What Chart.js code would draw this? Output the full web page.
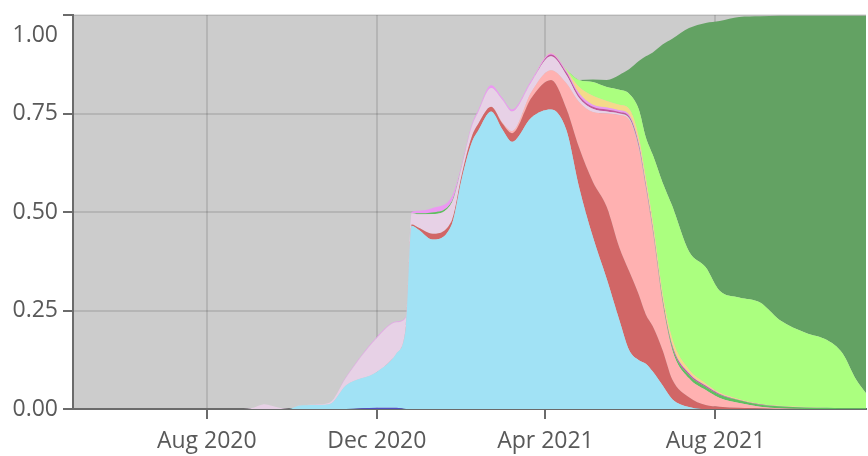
<!DOCTYPE html>
<html>
<head>
<meta charset="utf-8">
<script src="https://cdn.jsdelivr.net/npm/chart.js@4.4.1/dist/chart.umd.min.js"></script>
<style>html,body{margin:0;padding:0;background:#fff}#ChartDiv{width:868px;height:456px}</style>
</head>
<body>
<div id="ChartDiv"><canvas id="VariantChartHTML"></canvas></div>
<script>
//												Data
const DATES=['2020-04-27','2020-08-25','2020-09-04','2020-09-11','2020-09-22','2020-09-29','2020-10-06','2020-10-17','2020-10-28','2020-11-09','2020-12-01','2020-12-15','2020-12-22','2020-12-26','2020-12-31','2021-01-10','2021-01-24','2021-01-31','2021-02-07','2021-02-12','2021-02-21','2021-03-01','2021-03-08','2021-03-22','2021-04-05','2021-04-16','2021-04-25','2021-05-05','2021-05-15','2021-05-24','2021-05-31','2021-06-07','2021-06-12','2021-06-17','2021-06-24','2021-07-01','2021-07-13','2021-07-25','2021-08-04','2021-08-18','2021-09-02','2021-09-16','2021-10-05','2021-10-20','2021-10-31','2021-11-10','2021-11-17']
const NAVY=[0,0,0,0,0,0,0,0,0,0,0.003,0.003,0,0,0,0,0,0,0,0,0,0,0,0,0,0,0,0,0,0,0,0,0,0,0,0,0,0,0,0,0,0,0,0,0,0,0]
const BLUE=[0,0,0,0,0,0,0.008,0.01,0.012,0.06,0.091,0.137,0.21,0.465,0.455,0.43,0.47,0.585,0.675,0.708,0.755,0.71,0.678,0.74,0.76,0.708,0.565,0.437,0.33,0.226,0.15,0.124,0.115,0.095,0.06,0.025,0.005,0,0,0,0,0,0,0,0,0,0]
const RED=[0,0,0,0,0,0,0,0,0,0,0,0,0.002,0.003,0.005,0.015,0.01,0.01,0.015,0.017,0.012,0.015,0.022,0.05,0.075,0.055,0.1,0.14,0.183,0.184,0.2,0.166,0.125,0.115,0.09,0.05,0.025,0.01,0.006,0.003,0.001,0,0,0,0,0,0]
const PINK=[0,0,0,0,0,0,0,0,0,0,0,0,0,0,0,0,0,0,0,0,0,0.002,0.005,0.015,0.025,0.064,0.115,0.177,0.237,0.336,0.385,0.37,0.32,0.24,0.12,0.075,0.048,0.038,0.022,0.012,0.005,0.002,0,0,0,0,0]
const LAVENDER=[0,0,0.004,0.012,0.003,0,0.001,0.001,0.004,0.02,0.086,0.08,0.021,0.029,0.034,0.05,0.045,0.02,0.025,0.03,0.048,0.058,0.05,0.025,0.035,0.021,0.01,0.008,0.005,0.004,0.003,0.003,0.002,0.001,0,0,0,0,0,0,0,0,0,0,0,0,0]
const GREEN=[0,0,0,0,0,0,0,0,0,0,0,0,0,0,0.003,0.004,0.003,0.001,0,0,0,0,0,0,0,0,0,0,0,0,0.001,0.002,0.003,0.004,0.006,0.007,0.008,0.008,0.008,0.007,0.005,0.005,0.004,0.003,0.002,0.002,0.002]
const MAGENTA=[0,0,0,0,0,0,0,0,0,0,0,0,0,0,0,0,0,0,0,0,0,0,0,0,0.005,0.006,0.006,0.005,0.005,0.004,0.004,0.005,0.004,0.004,0.004,0.004,0.004,0.003,0.002,0.001,0.001,0,0,0,0,0,0]
const VIOLET=[0,0,0,0,0,0,0,0,0,0.002,0.003,0.002,0.002,0.003,0.006,0.011,0.012,0.005,0.005,0.005,0.007,0.005,0.005,0.005,0.003,0.004,0.006,0.005,0.005,0.004,0.004,0.005,0.004,0.003,0.002,0.002,0.002,0.001,0.001,0,0,0,0,0,0,0,0]
const YELLOW=[0,0,0,0,0,0,0,0,0,0,0,0,0,0,0,0,0,0,0,0,0,0,0,0,0.001,0.002,0.016,0.023,0.017,0.014,0.015,0.015,0.015,0.015,0.013,0.015,0.008,0.005,0.003,0.002,0.001,0.001,0.001,0,0,0,0]
const LIGHTGREEN=[0,0,0,0,0,0,0,0,0,0,0,0,0,0,0,0,0,0,0,0,0,0,0,0,0,0.002,0.017,0.035,0.035,0.038,0.038,0.07,0.102,0.168,0.28,0.337,0.3,0.295,0.258,0.258,0.257,0.218,0.188,0.172,0.14,0.072,0.038]
const DARKGREEN=[0,0,0,0,0,0,0,0,0,0,0,0,0,0,0,0,0,0,0,0,0,0,0,0,0,0,0,0.006,0.018,0.038,0.062,0.123,0.205,0.26,0.35,0.425,0.567,0.62,0.685,0.712,0.727,0.772,0.805,0.823,0.856,0.924,0.958]
const X_TICKS=['2020-08-01','2020-12-01','2021-04-01','2021-08-01']
const Y_TICKS=[0,0.25,0.5,0.75,1]
const X_MIN='2020-04-27',X_MAX='2021-11-17'

//												Helpers
const MONTHS=['Jan','Feb','Mar','Apr','May','Jun','Jul','Aug','Sep','Oct','Nov','Dec']
function DAY(d){return Date.UTC(+d.slice(0,4),+d.slice(5,7)-1,+d.slice(8,10))/864e5}
function DayToLabel(v){const D=new Date(v*864e5);return MONTHS[D.getUTCMonth()]+' '+D.getUTCFullYear()}
function Series(arr){return arr.map((v,i)=>({x:DAY(DATES[i]),y:v}))}
function Layer(arr,colour,first){return{data:Series(arr),backgroundColor:colour,borderColor:'transparent',borderWidth:0,fill:first?'origin':'-1',pointRadius:0,cubicInterpolationMode:'monotone'}}
function NoPad(s){s.paddingTop=0;s.paddingBottom=0;s.paddingLeft=0;s.paddingRight=0}

const plotBgPlugin={id:'plotBg',beforeDraw(c){const A=c.chartArea,X=c.ctx;X.save();X.fillStyle='#cccccc';X.fillRect(A.left,A.top,A.right-A.left,A.bottom-A.top);X.restore()}}
const FONT={family:'"Open Sans"',size:23,lineHeight:'40px'}

//												Chart
let VariantChart=new Chart(
	document.getElementById('VariantChartHTML'),
	{
		type:'line',
		plugins:[plotBgPlugin],
		data:{
			datasets:[
				Layer(NAVY,'#4f4fc4',true),
				Layer(BLUE,'#a1e2f5'),
				Layer(RED,'#d16666'),
				Layer(PINK,'#ffb1b1'),
				Layer(LAVENDER,'#e7d1e6'),
				Layer(GREEN,'#5fbf5f'),
				Layer(MAGENTA,'#c2559c'),
				Layer(VIOLET,'#ec98f2'),
				Layer(YELLOW,'#f5d98a'),
				Layer(LIGHTGREEN,'#abff7f'),
				Layer(DARKGREEN,'#63a263')
			]
		},
		options:{
			responsive:true,maintainAspectRatio:false,animation:false,
			layout:{padding:{top:15,right:2,left:0,bottom:0}},
			plugins:{legend:{display:false},tooltip:{enabled:false}},
			scales:{
				x:{type:'linear',min:DAY(X_MIN),max:DAY(X_MAX),z:1,
					afterBuildTicks:s=>{s.ticks=X_TICKS.map(t=>({value:DAY(t)}))},
					afterFit:s=>{s.height=47;NoPad(s)},
					grid:{color:'rgba(0,0,0,0.11)',lineWidth:2,tickLength:10,tickColor:'#6b6b6b',tickWidth:2},
					border:{color:'#6b6b6b',width:2},
					ticks:{color:'#595959',font:FONT,padding:2,maxRotation:0,callback:v=>DayToLabel(v)}},
				y:{stacked:true,min:0,max:1,z:1,
					afterBuildTicks:s=>{s.ticks=Y_TICKS.map(v=>({value:v}))},
					afterFit:s=>{s.width=73;NoPad(s)},
					grid:{color:'rgba(0,0,0,0.11)',lineWidth:2,tickLength:10,tickColor:'#6b6b6b',tickWidth:2},
					border:{color:'#6b6b6b',width:2},
					ticks:{color:'#595959',font:FONT,padding:5,callback:v=>v==1?['','1.00']:v.toFixed(2)}}
			}
		}
	}
)
</script>
</body>
</html>
